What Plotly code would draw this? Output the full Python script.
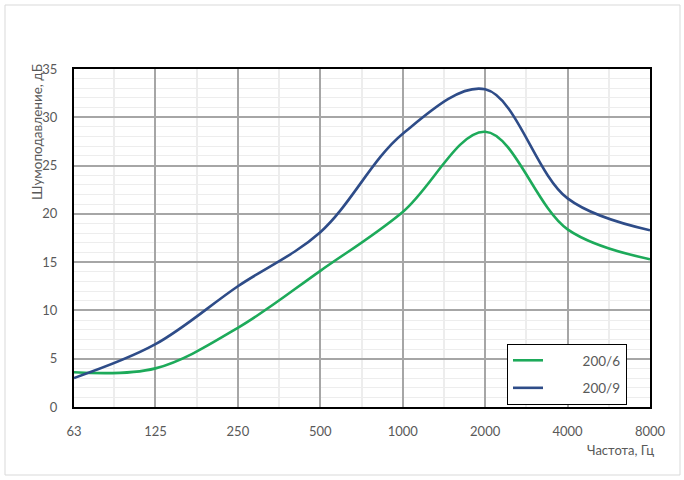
import plotly.graph_objects as go
import numpy as np

# Octave-band frequencies (Hz) and noise reduction (dB)
freqs = [63, 125, 250, 500, 1000, 2000, 4000, 8000]
tick_labels = ["63", "125", "250", "500", "1000", "2000", "4000", "8000"]

s200_6 = [3.6, 4.0, 8.2, 14.1, 20.2, 28.5, 18.4, 15.3]
s200_9 = [3.0, 6.5, 12.5, 18.1, 28.3, 32.9, 21.6, 18.3]

minor_x = [88, 177, 354, 707, 1414, 2828, 5657]

green = "#1DAA5A"
blue = "#2E4C88"
txt = "#595959"
font = "Lato"

fig = go.Figure()
fig.add_trace(go.Scatter(x=freqs, y=s200_6, mode="lines", name="\u00a0" * 10 + "200/6",
                         line=dict(color=green, width=2.6, shape="spline", smoothing=1.0),
                         legendgroup="a"))
fig.add_trace(go.Scatter(x=freqs, y=s200_9, mode="lines", name="\u00a0" * 10 + "200/9",
                         line=dict(color=blue, width=2.6, shape="spline", smoothing=1.0),
                         legendgroup="b"))

L, R, T, B = 74, 34, 69, 73
W, H = 684, 480
pw, ph = W - L - R, H - T - B

def px(x):
    return (x - L) / pw

def py(y):
    return (H - B - y) / ph

fig.update_layout(
    width=W, height=H,
    margin=dict(l=L, r=R, t=T, b=B, autoexpand=False),
    paper_bgcolor="white", plot_bgcolor="white",
    font=dict(family=font, size=13, color=txt),
    showlegend=True,
    legend=dict(x=px(507), y=py(344), xanchor="left", yanchor="top",
                bgcolor="white", bordercolor="black", borderwidth=1,
                font=dict(family=font, size=13.5, color=txt),
                tracegroupgap=7, traceorder="grouped"),
    xaxis=dict(type="log", range=[np.log10(63), np.log10(8000)],
               tickmode="array", tickvals=freqs, ticktext=tick_labels,
               showgrid=True, gridcolor="#A6A6A6", gridwidth=1.5,
               showline=True, linecolor="black", linewidth=2, mirror=True,
               ticks="", ticklabelstandoff=11, zeroline=False,
               minor=dict(tickmode="array", tickvals=minor_x, showgrid=True,
                          gridcolor="#EDEDED", gridwidth=1.5, ticks=""),
               tickfont=dict(family=font, size=13, color=txt)),
    yaxis=dict(range=[0, 35], tickmode="linear", tick0=0, dtick=5,
               showgrid=True, gridcolor="#A6A6A6", gridwidth=1.5,
               showline=True, linecolor="black", linewidth=2, mirror=True,
               ticks="", ticklabelstandoff=12, zeroline=False,
               minor=dict(tickmode="linear", tick0=0, dtick=1, showgrid=True,
                          gridcolor="#EDEDED", gridwidth=1, ticks=""),
               tickfont=dict(family=font, size=13, color=txt)),
    shapes=[dict(type="rect", xref="paper", yref="paper",
                 x0=px(5), x1=px(680), y0=py(475), y1=py(5),
                 line=dict(color="#D9D9D9", width=1), layer="below")],
    annotations=[
        dict(text="Шумоподавление, дБ", xref="paper", yref="paper",
             x=px(37), y=py(62), xanchor="center", yanchor="top",
             textangle=-90, showarrow=False,
             font=dict(family=font, size=13.5, color=txt)),
        dict(text="Частота, Гц", xref="paper", yref="paper",
             x=px(656), y=py(450), xanchor="right", yanchor="middle",
             showarrow=False, font=dict(family=font, size=13, color=txt)),
    ],
)

fig.write_html("out.html")
